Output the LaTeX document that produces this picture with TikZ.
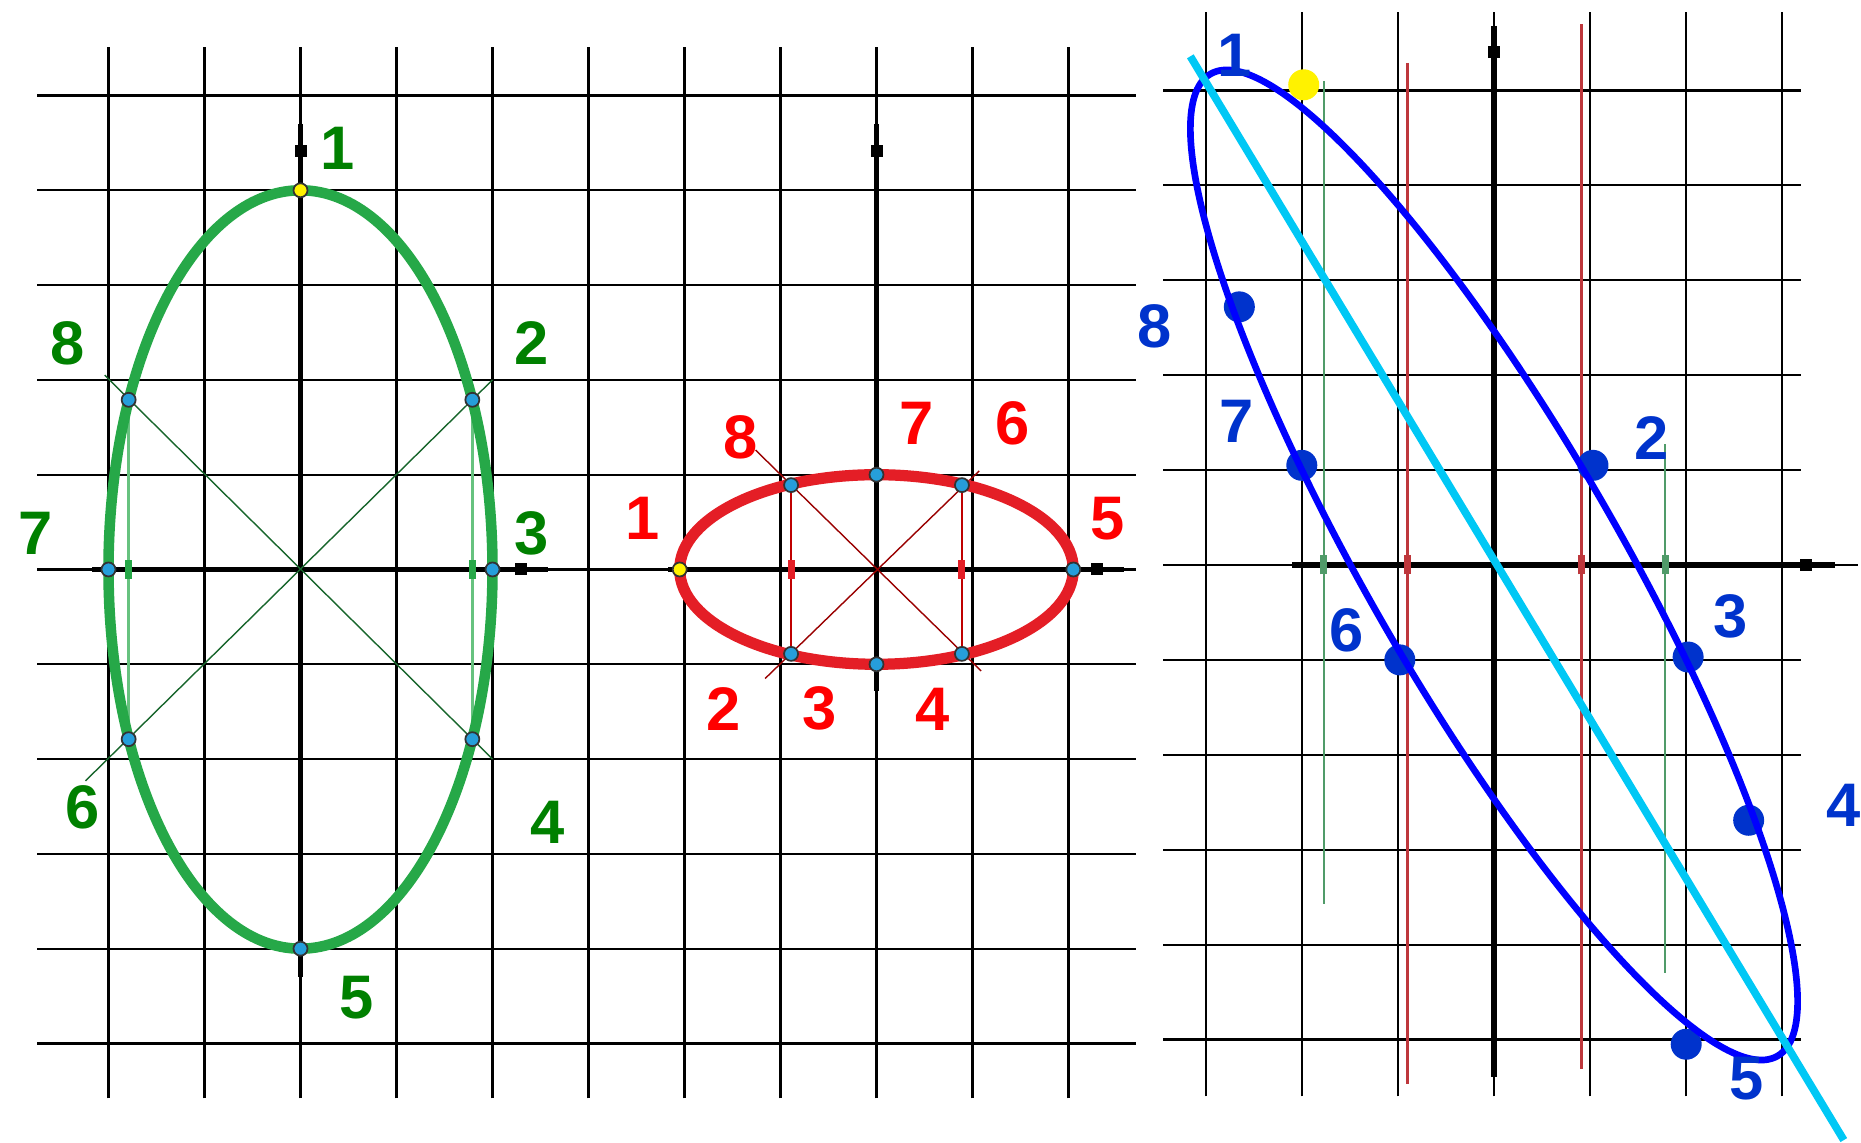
\documentclass[tikz,border=0pt]{standalone}
\usepackage{fontspec}
\setmainfont{Liberation Sans}
\definecolor{ellgreen}{RGB}{38,168,72}
\definecolor{ellred}{RGB}{228,30,38}
\definecolor{dotblue}{RGB}{0,51,204}
\definecolor{slopecyan}{RGB}{0,200,245}
\definecolor{ptfill}{RGB}{38,158,218}
\definecolor{helpred}{RGB}{190,55,60}
\definecolor{helpgreen}{RGB}{80,155,105}

\begin{document}
\begin{tikzpicture}[
  gridline/.style={black, line width=0.6pt},
  axisline/.style={black, line width=1.5pt},
  axisbox/.style={fill=black, inner sep=0pt, minimum size=0.12cm},
  pt/.style={circle, draw=black!80, fill=ptfill, line width=0.5pt, inner sep=0pt, minimum size=0.14cm},
  bigpt/.style={circle, fill=dotblue, inner sep=0pt, minimum size=0.31cm},
  num/.style={font=\fontsize{17.5}{20}\selectfont\bfseries, inner sep=0pt}]
  \useasboundingbox (0,0) rectangle (18.61,11.43);

  \begin{scope}[shift={(3.005,5.735)}, x=0.96cm, y=0.948cm]
    \foreach \x in {-2,...,8}
      \draw[gridline] (\x,-5.58) -- (\x,5.51);
    \foreach \y in {-5,...,5}
      \draw[gridline] (-2.74,\y) -- (8.70,\y);
    \foreach \c/\b in {0/-4.30,6/-1.28} {
      \draw[axisline] (\c,4.70) -- (\c,\b);
      \draw[axisline] (\c-2.17,0) -- (\c+2.58,0);
      \node[axisbox] (ty\c) at (\c,4.41) {};
      \node[axisbox] (tx\c) at (\c+2.30,0) {};
    }

    \foreach \n/\px/\py in {1/0/4,2/1.79/1.79,3/2/0,4/1.79/-1.79,
                            5/0/-4,6/-1.79/-1.79,7/-2/0,8/-1.79/1.79}
      \coordinate (g\n) at (\px,\py);
    \draw[ellgreen!60!black, line width=0.4pt] (-2.04,2.05) -- (2,-2);
    \draw[ellgreen!60!black, line width=0.4pt] (-2.24,-2.23) -- (2,2);
    \draw[ellgreen!70, line width=0.9pt] (g8) -- (g6);
    \draw[ellgreen!70, line width=0.9pt] (g2) -- (g4);
    \foreach \x in {-1.79,1.79}
      \draw[ellgreen, line width=2pt] (\x,-0.1) -- (\x,0.1);
    \draw[ellgreen, line width=3pt] (0,0) ellipse (2 and 4);
    \node[pt, fill=yellow] (gp1) at (g1) {};
    \foreach \n in {2,...,8}
      \node[pt] (gp\n) at (g\n) {};
    \foreach \n/\lx/\ly in {1/0.39/4.44,2/2.41/2.39,3/2.41/0.38,4/2.57/-2.67,
                            5/0.58/-4.52,6/-2.27/-2.51,7/-2.76/0.38,8/-2.43/2.39}
      \node[num, text=green!50!black] (gl\n) at (\lx,\ly) {\n};

    \begin{scope}[shift={(6,0)}]
      \foreach \n/\px/\py in {1/-2.05/0,2/-0.89/-0.89,3/0/-1,4/0.89/-0.89,
                              5/2.05/0,6/0.89/0.89,7/0/1,8/-0.89/0.89}
        \coordinate (r\n) at (\px,\py);
      \draw[red!60!black, line width=0.4pt] (-1.26,1.26) -- (1.09,-1.07);
      \draw[red!60!black, line width=0.4pt] (-1.16,-1.15) -- (1.07,1.04);
      \draw[red!75!black, line width=0.8pt] (r8) -- (r2);
      \draw[red!75!black, line width=0.8pt] (r6) -- (r4);
      \foreach \x in {-0.89,0.89}
        \draw[ellred, line width=2pt] (\x,-0.1) -- (\x,0.1);
      \draw[ellred, line width=3.2pt] (0,0) ellipse (2.05 and 1);
      \node[pt, fill=yellow] (rp1) at (r1) {};
      \foreach \n in {2,...,8}
        \node[pt] (rp\n) at (r\n) {};
      \foreach \n/\lx/\ly in {1/-2.44/0.54,2/-1.59/-1.47,3/-0.59/-1.47,4/0.58/-1.47,
                              5/2.41/0.54,6/1.42/1.54,7/0.42/1.54,8/-1.42/1.39}
        \node[num, text=red] (rl\n) at (\lx,\ly) {\n};
    \end{scope}
  \end{scope}

  \begin{scope}[shift={(14.94,5.78)}, x=0.961cm, y=0.949cm]
    \foreach \x in {-3,...,3}
      \draw[gridline] (\x,-5.6) -- (\x,5.83);
    \foreach \y in {-5,...,5}
      \draw[gridline] (-3.44,\y) -- (3.19,\y);
    \draw[axisline] (0,5.68) -- (0,-5.4);
    \draw[axisline] (-2.1,0) -- (3.55,0);
    \draw[gridline] (3.55,0) -- (3.79,0);
    \node[axisbox] (ty) at (0,5.41) {};
    \node[axisbox] (tx) at (3.25,0) {};
    \draw[helpred, line width=0.7pt] (-0.9,5.29) -- (-0.9,-5.47);
    \draw[helpred, line width=0.7pt] (0.91,5.70) -- (0.91,-5.31);
    \draw[helpgreen, line width=0.7pt] (-1.77,5.1) -- (-1.77,-3.57);
    \draw[helpgreen, line width=0.7pt] (1.78,1.27) -- (1.78,-4.3);
    \foreach \x/\col in {-0.9/helpred,0.91/helpred,-1.77/helpgreen,1.78/helpgreen}
      \draw[\col, line width=2pt] (\x,-0.1) -- (\x,0.1);

    \node[bigpt, fill=yellow] (bp1) at (-1.98,5.06) {};
    \foreach \n/\px/\py in {2/1.03/1.05,3/2.02/-0.97,4/2.65/-2.69,5/2/-5.05,
                            6/-0.98/-1,7/-2/1.05,8/-2.65/2.72}
      \node[bigpt] (bp\n) at (\px,\py) {};
    \draw[blue, line width=1.9pt, rotate=-60] (0,0) ellipse (5.9 and 1.32);
    \coordinate (s1) at (-3.16,5.36);
    \coordinate (s2) at (3.64,-6.06);
    \draw[slopecyan, line width=2.2pt] (s1) -- (s2);
    \foreach \n/\lx/\ly in {1/-2.70/5.37,2/1.64/1.34,3/2.46/-0.54,4/3.64/-2.53,
                            5/2.63/-5.41,6/-1.53/-0.69,7/-2.68/1.51,8/-3.53/2.52}
      \node[num, text=dotblue] (bl\n) at (\lx,\ly) {\n};
  \end{scope}
\end{tikzpicture}
\end{document}
